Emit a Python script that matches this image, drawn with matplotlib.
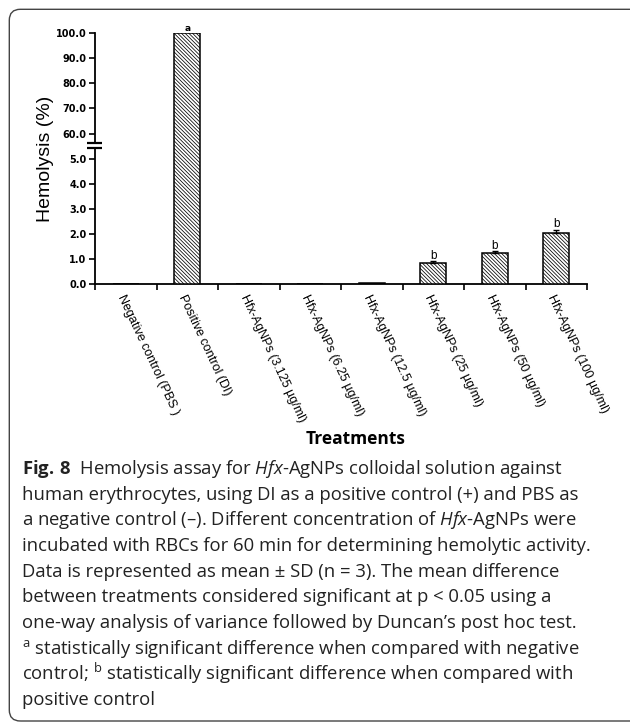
import numpy as np
import matplotlib.pyplot as plt
from matplotlib.patches import FancyBboxPatch, Rectangle
from matplotlib.transforms import Affine2D

plt.rcParams['hatch.linewidth'] = 0.55
plt.rcParams['mathtext.fontset'] = 'custom'
plt.rcParams['mathtext.rm'] = 'Open Sans'
plt.rcParams['mathtext.it'] = 'Open Sans:italic'
plt.rcParams['mathtext.bf'] = 'Open Sans:bold'

# data
treatments = ['Negative control (PBS )', 'Positive control (DI)',
              'Hfx-AgNPs (3.125 µg/ml)', 'Hfx-AgNPs (6.25 µg/ml)',
              'Hfx-AgNPs (12.5 µg/ml)', 'Hfx-AgNPs (25 µg/ml)',
              'Hfx-AgNPs (50 µg/ml)', 'Hfx-AgNPs (100 µg/ml)']
hemolysis = [0.0, 100.0, 0.005, 0.015, 0.04, 0.87, 1.25, 2.03]
sd = [0.0, 0.0, 0.0, 0.0, 0.0, 0.05, 0.07, 0.15]
letters = ['', 'a', '', '', '', 'b', 'b', 'b']
yticks = [0, 1, 2, 3, 4, 5, 60, 70, 80, 90, 100]

caption = [
    r'$\mathbf{Fig.\,8}$  Hemolysis assay for $\mathit{Hfx}$-AgNPs colloidal solution against',
    'human erythrocytes, using DI as a positive control (+) and PBS as',
    r'a negative control (–). Different concentration of $\mathit{Hfx}$-AgNPs were',
    'incubated with RBCs for 60 min for determining hemolytic activity.',
    'Data is represented as mean ± SD (n = 3). The mean difference',
    'between treatments considered significant at p < 0.05 using a',
    'one-way analysis of variance followed by Duncan’s post hoc test.',
    r'${}^{\mathrm{a}}$ statistically significant difference when compared with negative',
    r'control; ${}^{\mathrm{b}}$ statistically significant difference when compared with',
    'positive control',
]


# broken y axis: 0-5 full scale, 60-100 compressed
def fwd(y):
    y = np.asarray(y, dtype=float)
    return np.where(y <= 5, y, np.where(y <= 60, 5 + (y - 5) / 55, 6 + (y - 60) / 10))


def inv(t):
    t = np.asarray(t, dtype=float)
    return np.where(t <= 5, t, np.where(t <= 6, 5 + (t - 5) * 55, 60 + (t - 6) * 10))


W, H = 630, 722
fig = plt.figure(figsize=(W / 100, H / 100), dpi=100)
ax = fig.add_axes([95 / W, 1 - 284.5 / H, 492 / W, 251.5 / H])
ax.set_yscale('function', functions=(fwd, inv))

x = np.arange(len(treatments))
ax.bar(x, hemolysis, width=0.42, color='white', edgecolor='black',
       hatch='\\' * 9, linewidth=1.1, zorder=3)

err_idx = [i for i, s in enumerate(sd) if s > 0]
ax.errorbar(x[err_idx], [hemolysis[i] for i in err_idx],
            yerr=[[0] * len(err_idx), [sd[i] for i in err_idx]],
            fmt='none', ecolor='black', elinewidth=1.0, capsize=2.5,
            capthick=1.0, zorder=4)

for i, let in enumerate(letters):
    if not let:
        continue
    if let == 'a':
        ax.annotate(let, xy=(x[i], hemolysis[i] + sd[i]), xytext=(0, 0),
                    textcoords='offset points', ha='center', va='bottom',
                    fontsize=6.5, fontweight='bold', annotation_clip=False)
    else:
        ax.annotate(let, xy=(x[i], hemolysis[i] + sd[i]), xytext=(0, -0.5),
                    textcoords='offset points', ha='center', va='bottom',
                    fontsize=8.5, family='Liberation Sans', annotation_clip=False)

ax.set_xlim(-0.5, len(treatments) - 0.5)
ax.set_ylim(0, 100)

ax.set_yticks(yticks, [f'{v:.1f}' for v in yticks], fontsize=7, fontweight='bold')
ax.tick_params(axis='y', direction='out', length=4, width=1.2, pad=2)

ax.set_xticks(np.arange(-0.5, len(treatments), 1), [''] * (len(treatments) + 1))
ax.set_xticks(x, treatments, minor=True)
ax.tick_params(axis='x', which='major', direction='out', length=4, width=1.2)
ax.tick_params(axis='x', which='minor', length=0, pad=6)
for lbl in ax.get_xticklabels(minor=True):
    lbl.set_rotation(-65)
    lbl.set_ha('left')
    lbl.set_va('top')
    lbl.set_rotation_mode('anchor')
    lbl.set_fontsize(9)
    lbl.set_family('Liberation Sans')

for side in ['top', 'right']:
    ax.spines[side].set_visible(False)
for side in ['left', 'bottom']:
    ax.spines[side].set_linewidth(1.3)

ax.set_ylabel('Hemolysis (%)', fontsize=14, family='Liberation Sans', va='center')
ax.yaxis.set_label_coords(-50 / 492, 0.5)

# axis break marks
ax.add_patch(Rectangle((-0.006, 0.5415), 0.012, 0.0225, transform=ax.transAxes,
                       facecolor='white', edgecolor='none', clip_on=False, zorder=5))
for yb in [0.5415, 0.564]:
    ax.plot([-0.017, 0.0136], [yb, yb], transform=ax.transAxes, color='black',
            lw=1.6, clip_on=False, zorder=6, solid_capstyle='butt')

fig.text(356 / W, 1 - 444 / H, 'Treatments', ha='center', va='baseline',
         fontsize=12.5, fontweight='bold', family='Open Sans')

for i, line in enumerate(caption):
    fig.text(22 / W, 1 - (474 + 25.7 * i) / H, line, ha='left', va='baseline',
             fontsize=13.3, family='Open Sans', color='#222222')

# rounded frame around the figure panel
px = Affine2D().scale(1 / W, 1 / H) + fig.transFigure
fig.patches.append(FancyBboxPatch((9.3, 1), 660, H - 10.3,
                                  boxstyle='round,pad=0,rounding_size=11',
                                  transform=px, facecolor='none',
                                  edgecolor='#444444', lw=1.0))

fig.savefig('out.png', dpi=100)
